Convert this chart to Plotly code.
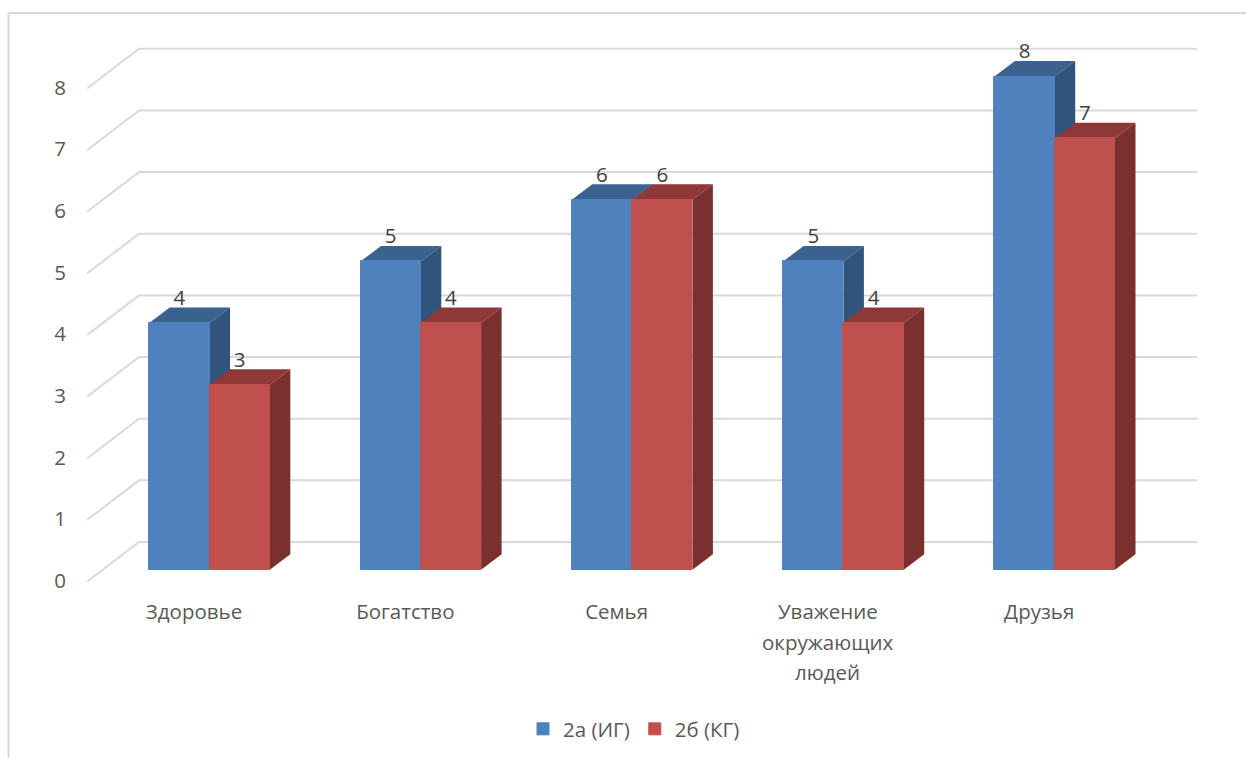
import plotly.graph_objects as go

# Chart data
category_lines = [
    ["Здоровье"],
    ["Богатство"],
    ["Семья"],
    ["Уважение", "окружающих", "людей"],
    ["Друзья"],
]
series_a_name = "2а (ИГ)"
series_b_name = "2б (КГ)"
series_a = [4, 5, 6, 5, 8]
series_b = [3, 4, 6, 4, 7]
value_ticks = [0, 1, 2, 3, 4, 5, 6, 7, 8]

# Plot frame, in pixels
WIDTH, HEIGHT = 1246, 758
LEFT, RIGHT, TOP, BOTTOM = 87, 1197, 30, 583
PX_PER_CAT = 211.3
PX_PER_VAL = 61.65
ORIGIN_X, ORIGIN_Y = 209.5, 569.7

# Axis ranges that keep the oblique projection in plain data units
x_range = [(LEFT - ORIGIN_X) / PX_PER_CAT, (RIGHT - ORIGIN_X) / PX_PER_CAT]
y_range = [(ORIGIN_Y - BOTTOM) / PX_PER_VAL, (ORIGIN_Y - TOP) / PX_PER_VAL]

BAR_W = 60.3 / PX_PER_CAT
BAR_DX = 20.5 / PX_PER_CAT
BAR_DY = 15.5 / PX_PER_VAL
WALL_BACK_X = (139 - ORIGIN_X) / PX_PER_CAT
WALL_BACK_DY = 27.7 / PX_PER_VAL
WALL_FRONT_DY = -12 / PX_PER_VAL
TICK_DY = -11 / PX_PER_VAL
LABEL_DY = 23.2 / PX_PER_VAL
CAT_LABEL_DX = -15.5 / PX_PER_CAT

GRID = "#D9D9D9"
TEXT = "#595959"
LABEL = "#404040"
FONT = "Open Sans"
SIZE = 20.5

fig = go.Figure()

# Back wall gridlines with their diagonal run down the side wall
grid_x, grid_y = [], []
for v in value_ticks:
    grid_x += [x_range[0], WALL_BACK_X, x_range[1], None]
    grid_y += [v + WALL_FRONT_DY, v + WALL_BACK_DY, v + WALL_BACK_DY, None]
fig.add_trace(go.Scatter(
    x=grid_x, y=grid_y, mode="lines", showlegend=False, hoverinfo="skip",
    line=dict(color=GRID, width=2), cliponaxis=False, zorder=0,
))


def add_series(name, values, left_offset, front, top, side, layer):
    # Top and side faces sit behind the front face of the same series
    for i, v in enumerate(values):
        x0 = i + left_offset
        x1 = x0 + BAR_W
        fig.add_trace(go.Scatter(
            x=[x0, x1, x1 + BAR_DX, x0 + BAR_DX, x0],
            y=[v, v, v + BAR_DY, v + BAR_DY, v],
            mode="lines", fill="toself", fillcolor=top, line=dict(width=0, color=top),
            showlegend=False, hoverinfo="skip", cliponaxis=False, zorder=layer,
        ))
        fig.add_trace(go.Scatter(
            x=[x1, x1 + BAR_DX, x1 + BAR_DX, x1, x1],
            y=[0, BAR_DY, v + BAR_DY, v, 0],
            mode="lines", fill="toself", fillcolor=side, line=dict(width=0, color=side),
            showlegend=False, hoverinfo="skip", cliponaxis=False, zorder=layer,
        ))
    fig.add_trace(go.Bar(
        x=list(range(len(values))), y=values, name=name,
        offset=left_offset, width=BAR_W,
        marker=dict(color=front, line=dict(width=1, color=front)),
        zorder=layer + 1,
    ))


add_series(series_a_name, series_a, -BAR_W, "#4F81BD", "#3B618F", "#30547C", 1)
add_series(series_b_name, series_b, 0, "#C0504D", "#8E3937", "#7A302E", 3)

# Value labels above each bar
for values, shift in ((series_a, -BAR_W / 2), (series_b, BAR_W / 2)):
    fig.add_trace(go.Scatter(
        x=[i + shift for i in range(len(values))],
        y=[v + LABEL_DY for v in values],
        text=[str(v) for v in values],
        mode="text", textposition="middle center",
        textfont=dict(family=FONT, size=SIZE, color=LABEL),
        showlegend=False, hoverinfo="skip", cliponaxis=False, zorder=5,
    ))

# Continuation lines of wrapped category labels
annotations = []
for i, lines in enumerate(category_lines):
    for n, line in enumerate(lines[1:], start=1):
        annotations.append(dict(
            x=i + CAT_LABEL_DX, xref="x", y=0, yref="paper",
            yshift=-29 - 30 * n, yanchor="middle", xanchor="center",
            text=line, showarrow=False,
            font=dict(family=FONT, size=SIZE, color=TEXT),
        ))


def paper_x(px):
    return (px - LEFT) / (RIGHT - LEFT)


def paper_y(px):
    return (BOTTOM - px) / (BOTTOM - TOP)


# Outer chart frame: top and left edges only
frame = dict(color=GRID, width=2)
shapes = [
    dict(type="line", xref="paper", yref="paper", x0=paper_x(8.5), x1=paper_x(WIDTH),
         y0=paper_y(13), y1=paper_y(13), line=frame),
    dict(type="line", xref="paper", yref="paper", x0=paper_x(8.5), x1=paper_x(8.5),
         y0=paper_y(13), y1=paper_y(HEIGHT), line=frame),
]

fig.update_layout(
    width=WIDTH, height=HEIGHT, autosize=False,
    margin=dict(l=LEFT, r=WIDTH - RIGHT, t=TOP, b=HEIGHT - BOTTOM, pad=0),
    paper_bgcolor="white", plot_bgcolor="rgba(0,0,0,0)",
    barmode="overlay", bargap=0,
    font=dict(family=FONT, size=SIZE, color=TEXT),
    xaxis=dict(
        range=x_range, showgrid=False, zeroline=False, showline=False,
        tickmode="array",
        tickvals=[i + CAT_LABEL_DX for i in range(len(category_lines))],
        ticktext=[lines[0] for lines in category_lines],
        ticks="outside", ticklen=10, tickcolor="rgba(0,0,0,0)",
        tickfont=dict(family=FONT, size=SIZE, color=TEXT),
    ),
    yaxis=dict(
        range=y_range, showgrid=False, zeroline=False, showline=False,
        tickmode="array",
        tickvals=[v + TICK_DY for v in value_ticks],
        ticktext=[str(v) for v in value_ticks],
        ticks="outside", ticklen=16, tickcolor="rgba(0,0,0,0)",
        tickfont=dict(family=FONT, size=SIZE, color=TEXT),
    ),
    # Placed against the page so the legend does not push the plot margins
    legend=dict(
        orientation="h", xref="container", yref="container",
        x=523 / WIDTH, xanchor="left",
        y=1 - 729 / HEIGHT, yanchor="middle",
        font=dict(family=FONT, size=SIZE, color=TEXT),
        bgcolor="rgba(0,0,0,0)",
    ),
    annotations=annotations,
    shapes=shapes,
    showlegend=True,
)

fig.write_html("out.html", config={"displayModeBar": False})
